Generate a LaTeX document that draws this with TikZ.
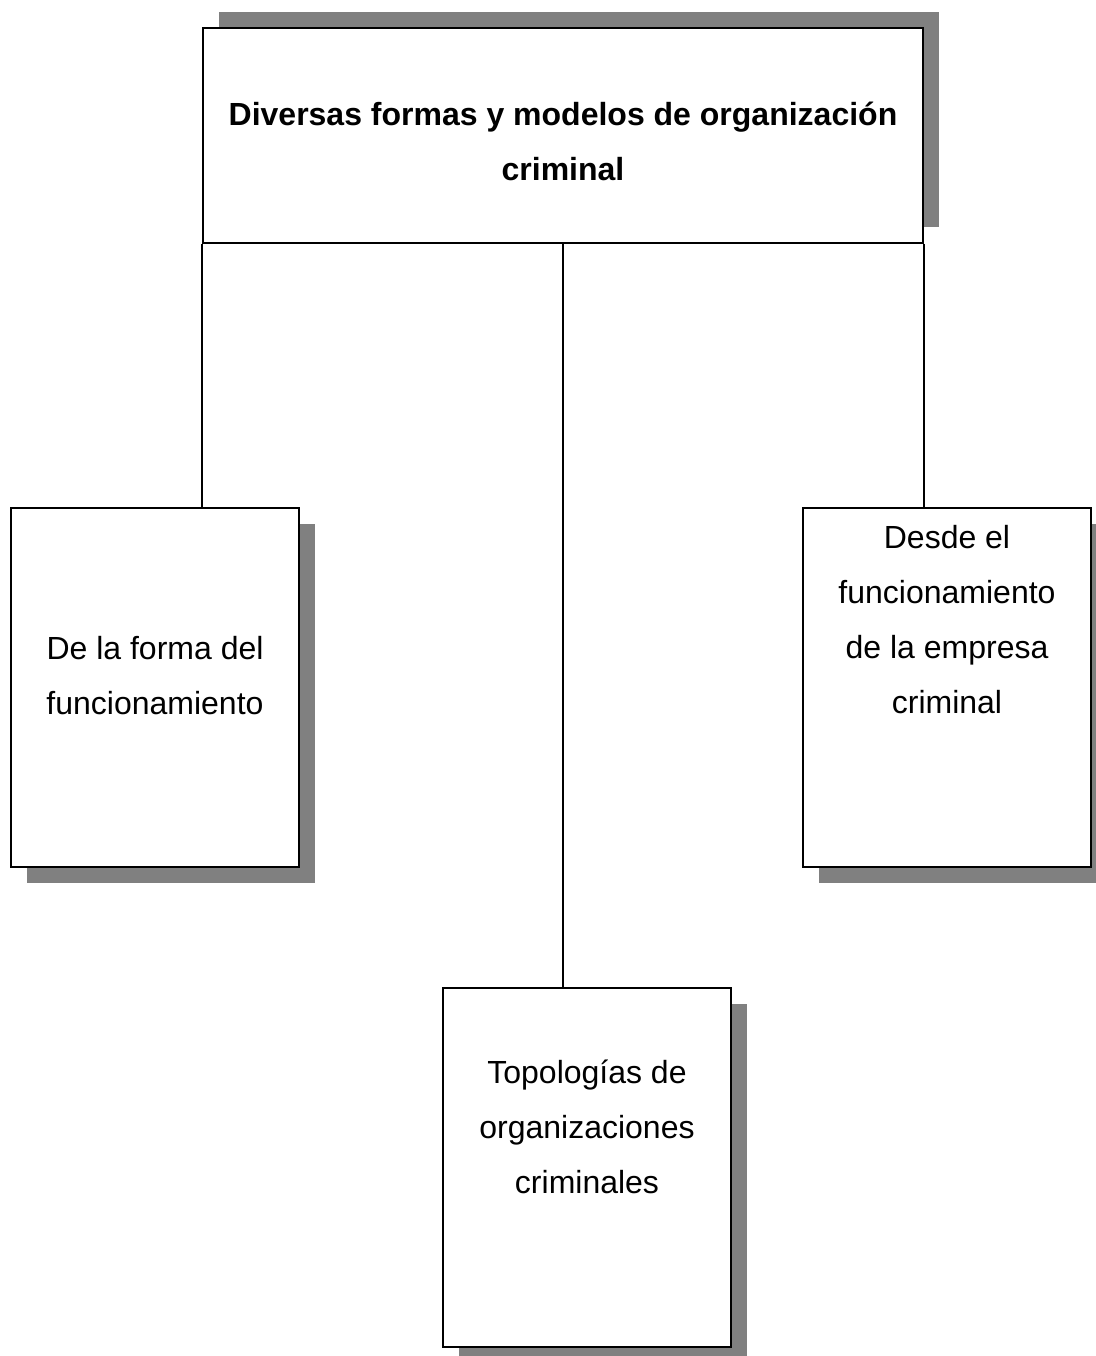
\documentclass[tikz,border=0pt]{standalone}
\usepackage{fontspec}
\setmainfont{Liberation Sans}
\usetikzlibrary{shadows}

\tikzset{
  box/.style={draw, line width=0.75pt, fill=white, inner sep=0pt},
  shadowdown/.style={drop shadow={shadow xshift=6pt, shadow yshift=-6pt, fill=black!50, opacity=1}},
  shadowup/.style={drop shadow={shadow xshift=6pt, shadow yshift=6pt, fill=black!50, opacity=1}},
  boxtext/.style={anchor=base, align=center, inner sep=0pt, font=\fontsize{12}{20.6}\selectfont},
  link/.style={line width=0.75pt}
}

\begin{document}
\begin{tikzpicture}[x=0.375pt, y=-0.375pt]
\useasboundingbox (0,0) rectangle (1096,1356);

% Top box
\node[box, shadowup, minimum width=270pt, minimum height=80.625pt] (top) at (563,135.5) {};
\node[boxtext, font=\fontsize{12}{20.6}\selectfont\bfseries] (toptext) at (563,180)
  {Diversas formas y modelos de organización\\criminal};

% Left box
\node[box, shadowdown, minimum width=108pt, minimum height=134.625pt] (left) at (155,687.5) {};
\node[boxtext] (lefttext) at (155,714) {De la forma del\\funcionamiento};

% Right box
\node[box, shadowdown, minimum width=108pt, minimum height=134.625pt] (right) at (947,687.5) {};
\node[boxtext] (righttext) at (947,713)
  {Desde el\\funcionamiento\\de la empresa\\criminal};

% Bottom box
\node[box, shadowdown, minimum width=108pt, minimum height=134.625pt] (bottom) at (587,1167.5) {};
\node[boxtext] (bottomtext) at (587,1193)
  {Topologías de\\organizaciones\\criminales};

% Connectors
\draw[link] (top.south west) -- (top.south west |- left.north);
\draw[link] (top.south) -- (top.south |- bottom.north);
\draw[link] (top.south east) -- (top.south east |- right.north);

\end{tikzpicture}
\end{document}
